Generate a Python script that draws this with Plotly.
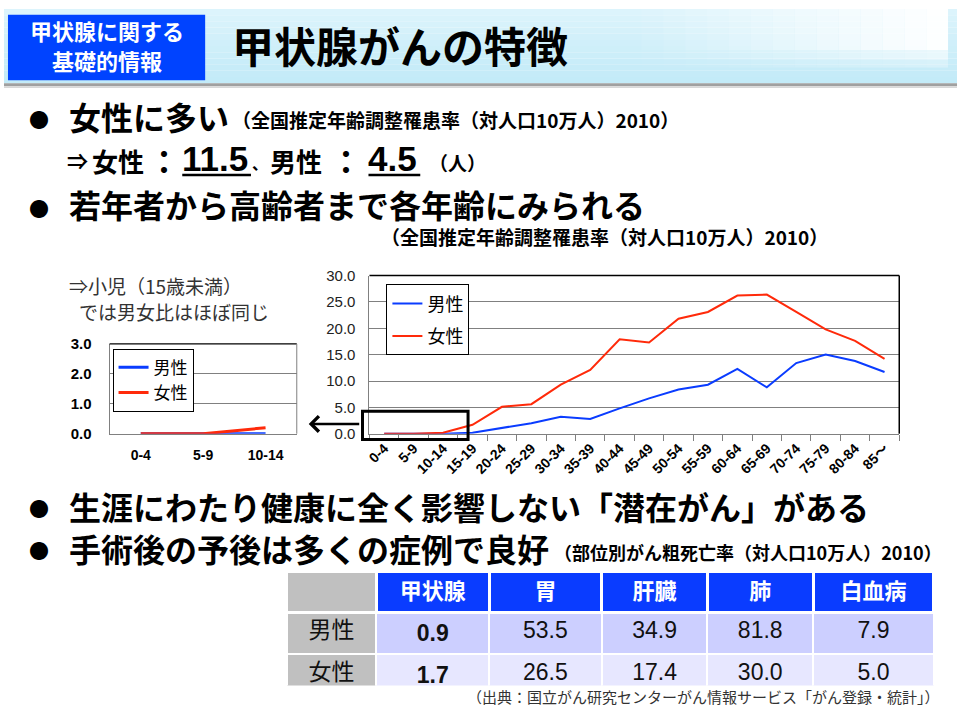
import plotly.graph_objects as go

# ---------------- data ----------------
age_groups = ["0-4", "5-9", "10-14", "15-19", "20-24", "25-29", "30-34", "35-39",
              "40-44", "45-49", "50-54", "55-59", "60-64", "65-69", "70-74",
              "75-79", "80-84", "85～"]
male_rate = [0.0, 0.0, 0.0, 0.2, 1.1, 2.0, 3.2, 2.8, 4.8, 6.7, 8.4, 9.3,
             12.3, 8.8, 13.4, 15.0, 13.8, 11.7]
female_rate = [0.0, 0.0, 0.2, 1.7, 5.1, 5.6, 9.3, 12.1, 17.9, 17.3, 21.8, 23.1,
               26.2, 26.4, 23.1, 19.8, 17.6, 14.2]
child_n = 3  # 0-4, 5-9, 10-14

table_header = ["", "甲状腺", "胃", "肝臓", "肺", "白血病"]
table_rows = ["男性", "女性"]
death_male = ["0.9", "53.5", "34.9", "81.8", "7.9"]
death_female = ["1.7", "26.5", "17.4", "30.0", "5.0"]

JP = "Noto Sans CJK JP"
LAT = "Liberation Sans, Noto Sans CJK JP"
BLUE = "#0a3cff"
RED = "#ff2a0a"

W, H = 960, 720
def X(x):
    return x / W
def Y(y):
    return 1 - y / H

fig = go.Figure()

# main chart
fig.add_trace(go.Scatter(x=age_groups, y=male_rate, mode="lines", name="男性",
                         line=dict(color=BLUE, width=2), xaxis="x", yaxis="y",
                         legend="legend", legendgroup="m"))
fig.add_trace(go.Scatter(x=age_groups, y=female_rate, mode="lines", name="女性",
                         line=dict(color=RED, width=2), xaxis="x", yaxis="y",
                         legend="legend", legendgroup="f"))
# small chart
fig.add_trace(go.Scatter(x=age_groups[:child_n], y=male_rate[:child_n], mode="lines", name="男性",
                         line=dict(color=BLUE, width=3), xaxis="x2", yaxis="y2",
                         legend="legend2", legendgroup="m2"))
fig.add_trace(go.Scatter(x=age_groups[:child_n], y=female_rate[:child_n], mode="lines", name="女性",
                         line=dict(color=RED, width=3), xaxis="x2", yaxis="y2",
                         legend="legend2", legendgroup="f2"))

# table
col_w = [89, 112, 112, 105, 105, 120]
cells_vals = [table_rows] + [[m, f] for m, f in zip(death_male, death_female)]
cells_vals[1] = ["<b>%s</b>" % v for v in cells_vals[1]]
fig.add_trace(go.Table(
    domain=dict(x=[X(284), X(934)], y=[Y(693), Y(576)]),
    columnwidth=col_w,
    header=dict(values=["<b>%s</b>" % h if h else "" for h in table_header],
                fill_color=["#c0c0c0"] + [BLUE] * 5,
                font=dict(family=LAT, size=22, color="white"),
                line=dict(color="white", width=3), height=37, align="center"),
    cells=dict(values=cells_vals,
               fill_color=[["#c0c0c0", "#c0c0c0"]] + [["#cccfff", "#e7e7ff"]] * 5,
               font=dict(family=LAT, size=23, color="#111"),
               line=dict(color="white", width=2), height=37, align="center"),
))

shapes = []
# header background gradient
top_c = (0xdc, 0xf4, 0xfc)
bot_c = (0xc3, 0xeb, 0xf8)
nb = 12
for i in range(nb):
    t = i / (nb - 1)
    c = tuple(int(top_c[k] + (bot_c[k] - top_c[k]) * t) for k in range(3))
    shapes.append(dict(type="rect", xref="paper", yref="paper",
                       x0=X(0), x1=X(957), y0=Y(76 * i / nb), y1=Y(76 * (i + 1) / nb),
                       fillcolor="rgb(%d,%d,%d)" % c, line=dict(width=0), layer="below"))
# white highlight top-right
ns = 14
for i in range(ns):
    op = 0.95 * (i + 1) / ns
    for (ya, yb, f) in [(0, 42, 1.0), (42, 52, 0.6), (52, 60, 0.3)]:
        shapes.append(dict(type="rect", xref="paper", yref="paper",
                           x0=X(640 + i * 22), x1=X(min(957, 640 + (i + 1) * 22)),
                           y0=Y(ya), y1=Y(yb), fillcolor="white",
                           opacity=op * f, line=dict(width=0), layer="below"))
# shadow
shapes.append(dict(type="rect", xref="paper", yref="paper", x0=X(0), x1=X(957),
                   y0=Y(76), y1=Y(79), fillcolor="#a0a0a0", line=dict(width=0), layer="below"))
shapes.append(dict(type="rect", xref="paper", yref="paper", x0=X(0), x1=X(957),
                   y0=Y(79), y1=Y(81), fillcolor="#d8d8d8", line=dict(width=0), layer="below"))
# blue label box
shapes.append(dict(type="rect", xref="paper", yref="paper", x0=X(4), x1=X(202),
                   y0=Y(6), y1=Y(73), fillcolor="#0043ff", line=dict(width=0)))
# chart frames (top/right)
shapes.append(dict(type="line", xref="x domain", yref="y domain", x0=0, x1=1, y0=1, y1=1,
                   line=dict(color="black", width=1.5)))
shapes.append(dict(type="line", xref="x domain", yref="y domain", x0=1, x1=1, y0=0, y1=1,
                   line=dict(color="black", width=1.5)))
shapes.append(dict(type="line", xref="x2 domain", yref="y2 domain", x0=0, x1=1, y0=1, y1=1,
                   line=dict(color="black", width=1.2)))
shapes.append(dict(type="line", xref="x2 domain", yref="y2 domain", x0=1, x1=1, y0=0, y1=1,
                   line=dict(color="#808080", width=1)))
# highlight box
shapes.append(dict(type="rect", xref="paper", yref="paper", x0=X(360), x1=X(466),
                   y0=Y(412), y1=Y(441), line=dict(color="black", width=3)))
# underlines
shapes.append(dict(type="line", xref="paper", yref="paper", x0=X(179), x1=X(248),
                   y0=Y(170), y1=Y(170), line=dict(color="black", width=2.5)))
shapes.append(dict(type="line", xref="paper", yref="paper", x0=X(366), x1=X(418),
                   y0=Y(170), y1=Y(170), line=dict(color="black", width=2.5)))

ann = []
def txt(x, y, s, size, bold=True, color="black", xanchor="left", family=JP):
    ann.append(dict(x=X(x), y=Y(y), xref="paper", yref="paper", text=s, showarrow=False,
                    xanchor=xanchor, yanchor="middle", borderpad=0,
                    font=dict(family=family, size=size, color=color,
                              weight="bold" if bold else "normal")))

txt(103, 22, "甲状腺に関する", 22, color="white", xanchor="center")
txt(103, 52, "基礎的情報", 22, color="white", xanchor="center")
txt(228, 36, "甲状腺がんの特徴", 42)

txt(35, 113, "●", 20, xanchor="center")
txt(64, 110, "女性に多い", 32)
txt(228, 113, "（全国推定年齢調整罹患率（対人口10万人）2010）", 19)
txt(62, 155, "⇒", 21)
txt(87, 155, "女性", 26)
txt(161, 155, "：", 32, xanchor="center")
txt(178, 153, "11.5", 35, family=LAT)
txt(248, 158, "、", 16)
txt(266, 155, "男性", 26)
txt(343, 155, "：", 32, xanchor="center")
txt(365, 153, "4.5", 35, family=LAT)
txt(426, 157, "（人）", 19)
txt(35, 204, "●", 20, xanchor="center")
txt(64, 200, "若年者から高齢者まで各年齢にみられる", 32)
txt(378, 233, "（全国推定年齢調整罹患率（対人口10万人）2010）", 19)
txt(64, 283, "⇒小児（15歳未満）", 19, bold=False, color="#333")
txt(74, 310, "では男女比はほぼ同じ", 19, bold=False, color="#333")
txt(35, 512, "●", 20, xanchor="center")
txt(64, 509, "生涯にわたり健康に全く影響しない「潜在がん」がある", 32)
txt(35, 555, "●", 20, xanchor="center")
txt(64, 552, "手術後の予後は多くの症例で良好", 32)
txt(551, 556, "（部位別がん粗死亡率（対人口10万人）2010）", 18)
txt(941, 704, "（出典：国立がん研究センターがん情報サービス「がん登録・統計」）", 15,
    bold=False, color="#333", xanchor="right")

# arrow
ann.append(dict(x=X(306), y=Y(425), ax=52, ay=0, xref="paper", yref="paper",
                axref="pixel", ayref="pixel", text="", showarrow=True, arrowhead=4,
                arrowsize=1.2, arrowwidth=2.5, arrowcolor="black"))

fig.update_layout(
    width=W, height=H, margin=dict(l=0, r=0, t=0, b=0),
    paper_bgcolor="white", plot_bgcolor="white",
    shapes=shapes, annotations=ann, showlegend=True,
    xaxis=dict(domain=[X(367), X(899)], anchor="y", type="category",
               range=[-0.5, len(age_groups) - 0.5], showline=True, linecolor="#808080",
               ticks="outside", tickson="boundaries", ticklen=6, tickcolor="#808080",
               tickangle=-45, showgrid=False,
               tickfont=dict(family=LAT, size=14, color="black", weight="bold")),
    yaxis=dict(domain=[Y(435), Y(273)], anchor="x", range=[0, 30], dtick=5,
               tickformat=".1f", showline=True, linecolor="#808080", showgrid=True,
               gridcolor="#808080", gridwidth=1, zeroline=False, ticks="",
               ticklabelstandoff=10,
               tickfont=dict(family=LAT, size=15, color="#222")),
    xaxis2=dict(domain=[X(106), X(294)], anchor="y2", type="category",
                range=[-0.5, child_n - 0.5], showline=True, linecolor="#808080",
                ticks="", showgrid=False, ticklabelstandoff=8,
                tickfont=dict(family=LAT, size=14, color="black", weight="bold")),
    yaxis2=dict(domain=[Y(435), Y(343)], anchor="x2", range=[0, 3], dtick=1,
                tickformat=".1f", showline=True, linecolor="#808080", showgrid=True,
                gridcolor="#808080", zeroline=False, ticks="", ticklabelstandoff=14,
                tickfont=dict(family=LAT, size=15, color="black", weight="bold")),
    legend=dict(x=X(384), y=Y(282), xanchor="left", yanchor="top", bgcolor="white",
                bordercolor="black", borderwidth=1, tracegroupgap=6,
                font=dict(family=JP, size=18, color="black")),
    legend2=dict(x=X(109), y=Y(348), xanchor="left", yanchor="top", bgcolor="white",
                 bordercolor="black", borderwidth=1, tracegroupgap=0,
                 font=dict(family=JP, size=17, color="black")),
)

fig.write_html("out.html", config={"displayModeBar": False},
               post_script="document.body.style.margin='0';document.body.style.overflow='hidden';")
